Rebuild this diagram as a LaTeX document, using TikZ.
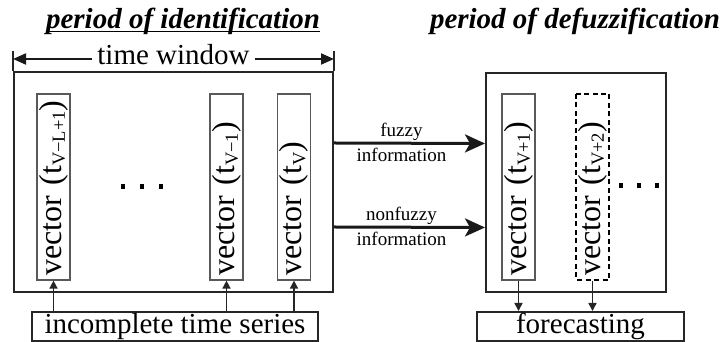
\documentclass[tikz,border=0pt]{standalone}
\usepackage{fontspec}
\setmainfont{Liberation Serif}
\usetikzlibrary{arrows.meta}

% lowered, smaller index after the t
\newcommand{\tsub}[1]{\raisebox{-0.25ex}{\fontsize{18.5}{19}\selectfont #1}}

\tikzset{
  bigbox/.style={draw=black!85, line width=2pt, inner sep=0pt},
  vecbox/.style={draw=black!65, line width=1.2pt, rotate=90, minimum height=33pt,
    text width=178pt, inner xsep=4pt, inner ysep=0pt, align=left,
    font=\fontsize{32}{34}\selectfont},
  vecdash/.style={vecbox, draw=black, line width=1.6pt, dash pattern=on 5pt off 3.5pt},
  databox/.style={draw=black!85, line width=2pt, inner sep=0pt, minimum height=29pt,
    font=\fontsize{29}{30}\selectfont},
  title/.style={inner sep=0pt, anchor=base, font=\fontsize{29}{30}\selectfont\bfseries\itshape},
  feed/.style={-{Triangle[length=8pt,width=8pt]}, line width=1.6pt, draw=black!85},
  flow/.style={-{Stealth[length=20pt,width=18pt,inset=5pt]}, line width=3pt, draw=black!90},
  span/.style={-{Triangle[length=13pt,width=11pt]}, line width=2pt, draw=black!90},
  info/.style={font=\fontsize{19}{20}\selectfont}
}

\begin{document}
\begin{tikzpicture}[x=1pt,y=1pt]
  \useasboundingbox (0,0) rectangle (724,342);

  % titles of the two periods
  \node[title] (idtitle) at (183,313) {period of identification};
  \draw[line width=1.5pt] ([yshift=-2.5pt]idtitle.base west) -- ([yshift=-2.5pt]idtitle.base east);
  \node[title] (deftitle) at (575,313) {period of defuzzification};

  % frames
  \node[bigbox, minimum width=319pt, minimum height=220pt] (idbox) at (173.5,160) {};
  \node[bigbox, minimum width=180pt, minimum height=219pt] (defbox) at (576,159.5) {};

  % time window span
  \draw[line width=2pt, draw=black!85] (idbox.north west) -- ++(0,20);
  \draw[line width=2pt, draw=black!85] (idbox.north east) -- ++(0,20);
  \coordinate (twl) at ([yshift=12pt]idbox.north west);
  \coordinate (twr) at ([yshift=12pt]idbox.north east);
  \node[font=\fontsize{29}{30}\selectfont, inner xsep=5pt, inner ysep=0pt, anchor=base] (tw) at (173.5,277) {time window};
  \draw[span] (tw.west |- twl) -- (twl);
  \draw[span] (tw.east |- twr) -- (twr);

  % input vectors
  \node[vecbox] (v1) at (53.5,155) {vector (t\tsub{V−L+1})};
  \node[vecbox] (v2) at (226.5,155) {vector (t\tsub{V−1})};
  \node[vecbox] (v3) at (294,155) {vector (t\tsub{V})};
  \foreach \x in {123,142,161}
    \fill (\x-2,152.5) rectangle ++(4,5);

  % output vectors
  \node[vecbox] (w1) at (518.5,155) {vector (t\tsub{V+1})};
  \node[vecdash] (w2) at (592.5,155) {vector (t\tsub{V+2})};
  \foreach \x in {621,639,657}
    \fill (\x-2,153.5) rectangle ++(4,5);

  % data and result
  \node[databox, minimum width=286pt] (series) at (175,15.5) {incomplete time series};
  \node[databox, minimum width=207pt] (fc) at (580.5,15.5) {forecasting};

  \draw[feed] (series.north -| v1.west) -- (v1.west);
  \draw[feed] (series.north -| v2.west) -- (v2.west);
  \draw[feed] (series.north -| v3.west) -- (v3.west);
  \draw[feed] (w1.west) -- (w1.west |- fc.north);
  \draw[feed] (w2.west) -- (w2.west |- fc.north);

  % information passed on
  \draw[flow] ([yshift=39pt]idbox.east) -- ([yshift=39pt]defbox.west)
    node[info, midway, above, inner sep=1pt, xshift=-8pt] {fuzzy}
    node[info, midway, below, inner sep=3pt, xshift=-8pt] {information};
  \draw[flow] ([yshift=-45pt]idbox.east) -- ([yshift=-45pt]defbox.west)
    node[info, midway, above, inner sep=1pt, xshift=-8pt] {nonfuzzy}
    node[info, midway, below, inner sep=3pt, xshift=-8pt] {information};
\end{tikzpicture}
\end{document}
